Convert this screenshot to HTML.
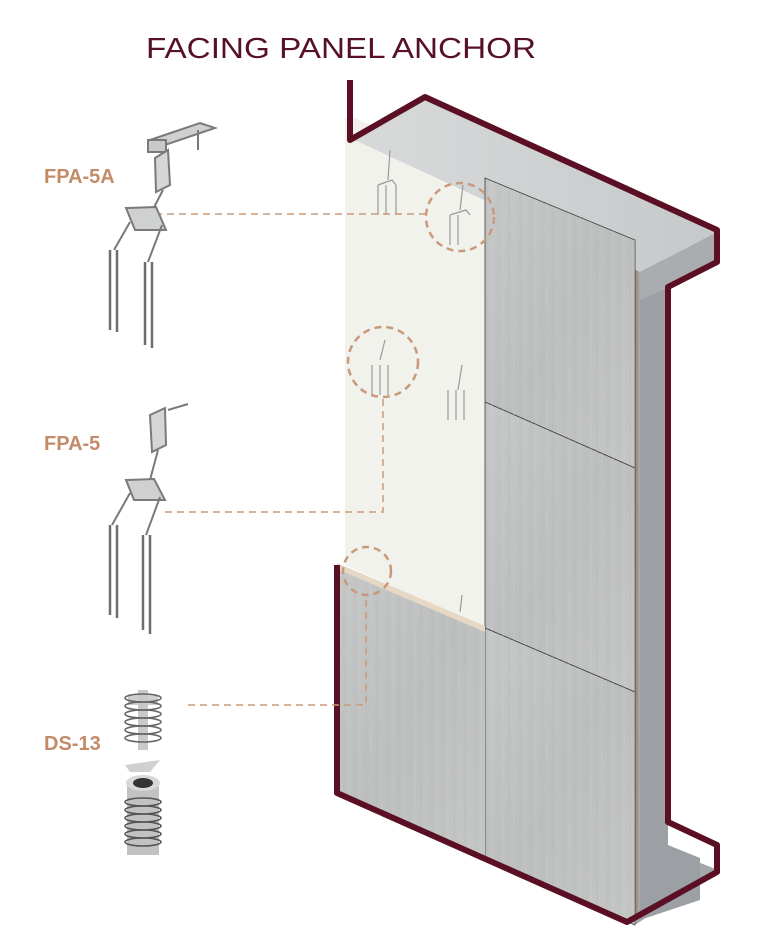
<!DOCTYPE html>
<html><head><meta charset="utf-8"><style>html,body{margin:0;padding:0;background:#fff}svg{display:block}</style></head>
<body>
<svg width="768" height="949" viewBox="0 0 768 949" xmlns="http://www.w3.org/2000/svg">
<defs>
<linearGradient id="con" x1="0" y1="0" x2="1" y2="1">
<stop offset="0" stop-color="#c6c8c8"/><stop offset="0.5" stop-color="#bdbfbf"/><stop offset="1" stop-color="#c4c6c5"/></linearGradient>
<linearGradient id="slab" x1="0" y1="0" x2="1" y2="0"><stop offset="0" stop-color="#d8dada"/><stop offset="1" stop-color="#c6c9cb"/></linearGradient>
<pattern id="tex" width="11" height="60" patternUnits="userSpaceOnUse">
<line x1="3" y1="0" x2="3" y2="60" stroke="#a9abab" stroke-width="1.2" opacity="0.25"/><line x1="8" y1="0" x2="8" y2="60" stroke="#d0d2d2" stroke-width="1" opacity="0.3"/></pattern>
</defs>
<text x="146" y="58" font-family="Liberation Sans, sans-serif" font-size="29" fill="#57102a" textLength="390" lengthAdjust="spacingAndGlyphs">FACING PANEL ANCHOR</text>
<polygon points="345,118 355,118 485,178 485,628 345,565" fill="#f2f2ec"/>
<polygon points="635,250 668,262 668,850 718,870 635,925" fill="#a4a8ab"/>
<polygon points="640,255 668,270 668,845 700,858 700,900 640,920" fill="#9ca0a4"/>
<rect x="634" y="260" width="4" height="655" fill="#a48c7e"/>
<polygon points="350,138 425,97 717,232 640,272" fill="url(#slab)"/>
<polygon points="640,272 717,232 717,262 670,287 640,300" fill="#a9adb0"/>
<g stroke="#3a3a3a" stroke-width="0.8">
<polygon points="485,178 635,240 635,468 485,402" fill="url(#con)"/>
<polygon points="485,402 635,468 635,692 485,628" fill="url(#con)"/>
<polygon points="485,628 635,692 635,925 485,858" fill="url(#con)"/>
<polygon points="337,565 485,628 485,858 337,793" fill="url(#con)" stroke="none"/>
</g>
<g fill="url(#tex)">
<polygon points="485,178 635,240 635,925 485,858"/>
<polygon points="337,565 485,628 485,858 337,793"/>
</g>
<polygon points="337,563 485,626 485,632 337,569" fill="#e6d8c4"/>
<polyline points="350,80 350,140 425,97 717,230 717,262 668,287 668,822 717,845 717,872 627,922 337,793 337,565" fill="none" stroke="#5a0f24" stroke-width="6" stroke-linejoin="round"/>
<g stroke="#9a9a9a" stroke-width="1.2" fill="none">
<path d="M390,150 L388,180 M378,185 L378,215 M386,185 L386,215 M378,185 L392,180 L396,185 L396,215"/>
<path d="M463,185 L460,210 M450,215 L450,245 M458,215 L458,245 M450,215 L466,210 L470,215"/>
<path d="M385,340 L380,360 M372,365 L372,395 M380,365 L380,395 M388,365 L388,395"/>
<path d="M462,365 L458,390 M448,390 L448,420 M456,390 L456,420 M464,390 L464,420"/>
<path d="M462,595 L460,612"/>
</g>
<g stroke="#c99a7a" stroke-width="1.5" fill="none" stroke-dasharray="7,5">
<path d="M155,214 L425,214"/>
<circle cx="460" cy="217" r="34" stroke-width="2.5"/>
<path d="M165,512 L383,512 L383,398"/>
<circle cx="383" cy="362" r="35" stroke-width="2.5"/>
<path d="M188,705 L366,705 L366,596"/>
<circle cx="367" cy="571" r="24" stroke-width="2.5"/>
</g>
<g font-family="Liberation Sans, sans-serif" font-weight="bold" font-size="20" fill="#c48b69">
<text x="44" y="183">FPA-5A</text>
<text x="44" y="450">FPA-5</text>
<text x="44" y="750">DS-13</text>
</g>
<g stroke="#7a7a7a" stroke-width="2" fill="none">
<polygon points="150,140 200,123 215,128 165,145" fill="#cfd0d0"/>
<rect x="148" y="140" width="18" height="12" fill="#c8c9c9"/>
<polygon points="155,158 168,150 170,185 156,192" fill="#d6d6d6"/>
<line x1="163" y1="190" x2="150" y2="215"/>
<polygon points="126,208 156,207 166,230 135,230" fill="#cfd0d0"/>
<path d="M130,222 L114,250 M162,225 L148,262"/>
<path d="M110,250 L110,330 M117,250 L117,332 M145,262 L145,345 M152,262 L152,348" stroke-width="2.5" stroke="#6e6e6e"/>
<line x1="198" y1="130" x2="198" y2="150"/>
</g>
<g stroke="#7a7a7a" stroke-width="2" fill="none">
<line x1="168" y1="410" x2="188" y2="404"/>
<polygon points="150,415 165,408 166,445 152,452" fill="#d6d6d6"/>
<line x1="158" y1="450" x2="150" y2="480"/>
<polygon points="126,480 154,479 165,500 134,500" fill="#cfd0d0"/>
<path d="M130,493 L112,525 M160,497 L146,535"/>
<path d="M110,525 L110,615 M117,525 L117,618 M143,535 L143,630 M150,535 L150,634" stroke-width="2.5" stroke="#6e6e6e"/>
</g>
<g>
<rect x="128" y="695" width="30" height="10" fill="#cfcfcf"/>
<rect x="138" y="690" width="10" height="60" fill="#c9c9c9"/>
<g stroke="#666" stroke-width="1.6" fill="none">
<ellipse cx="143" cy="698" rx="18" ry="4"/><ellipse cx="143" cy="706" rx="18" ry="4"/><ellipse cx="143" cy="714" rx="18" ry="4"/><ellipse cx="143" cy="722" rx="18" ry="4"/><ellipse cx="143" cy="730" rx="18" ry="4"/><ellipse cx="143" cy="738" rx="18" ry="4"/>
</g>
<rect x="127" y="785" width="32" height="70" fill="#c2c2c2"/>
<ellipse cx="143" cy="783" rx="17" ry="8" fill="#d8d8d8"/>
<ellipse cx="143" cy="783" rx="10" ry="5" fill="#333"/>
<g stroke="#555" stroke-width="1.6" fill="none">
<ellipse cx="143" cy="802" rx="18" ry="4"/><ellipse cx="143" cy="810" rx="18" ry="4"/><ellipse cx="143" cy="818" rx="18" ry="4"/><ellipse cx="143" cy="826" rx="18" ry="4"/><ellipse cx="143" cy="834" rx="18" ry="4"/><ellipse cx="143" cy="842" rx="18" ry="4"/>
</g>
<path d="M125,765 L160,760 L150,772 L130,772 Z" fill="#d0d0d0"/>
</g>
</svg>
</body></html>
